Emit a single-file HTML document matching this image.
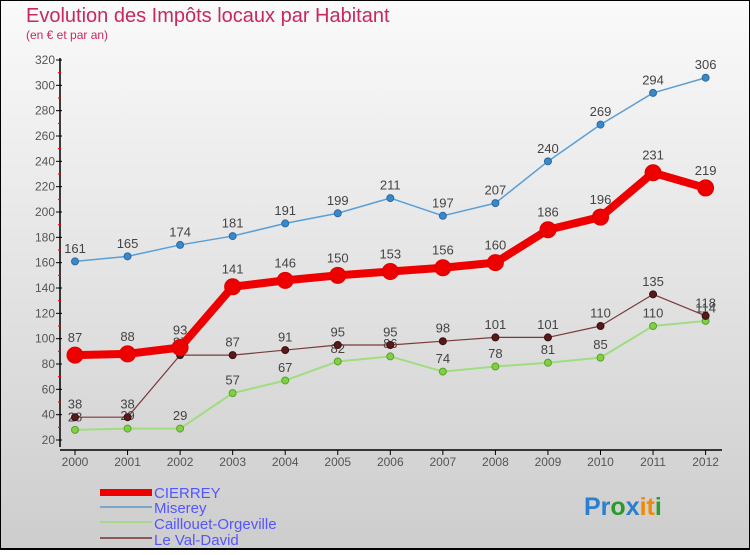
<!DOCTYPE html>
<html><head><meta charset="utf-8"><style>
body{margin:0;}
#c{width:750px;height:550px;position:relative;font-family:"Liberation Sans",sans-serif;}
</style></head><body>
<div id="c">
<svg id="s" width="750" height="550" xmlns="http://www.w3.org/2000/svg">
<defs><linearGradient id="bg" x1="0" y1="0" x2="0" y2="1"><stop offset="0" stop-color="#fafafa"/><stop offset="1" stop-color="#cdcdcd"/></linearGradient></defs>
<rect x="0.5" y="0.5" width="749" height="549" fill="url(#bg)" stroke="#000"/>
<line x1="0" y1="549" x2="750" y2="549" stroke="#000" stroke-width="2"/>
<text x="26" y="22" font-size="20" fill="#c8285a">Evolution des Impôts locaux par Habitant</text>
<text x="26" y="39" font-size="12" fill="#c8285a">(en € et par an)</text>
<g id="axes"></g><g id="series"></g>
<g>
<rect x="100" y="489" width="52" height="7" fill="#e00"/>
<line x1="100" y1="507" x2="152" y2="507" stroke="#7aa6c8" stroke-width="2"/>
<line x1="100" y1="522" x2="152" y2="522" stroke="#a8d890" stroke-width="2"/>
<line x1="100" y1="538" x2="152" y2="538" stroke="#8a5a5a" stroke-width="2"/>
<g font-size="15" fill="#5555ff">
<text x="154" y="498">CIERREY</text>
<text x="154" y="513">Miserey</text>
<text x="154" y="529">Caillouet-Orgeville</text>
<text x="154" y="545">Le Val-David</text>
</g></g>
<text x="584" y="515" font-size="25" font-weight="bold"><tspan fill="#2a7fd0">Pr</tspan><tspan fill="#2a9a2a">o</tspan><tspan fill="#2a7fd0">x</tspan><tspan fill="#f08a00">it</tspan><tspan fill="#2aa02a">i</tspan></text>
</svg></div>
<script>
const years=[2000,2001,2002,2003,2004,2005,2006,2007,2008,2009,2010,2011,2012];
const cierrey=[87,88,93,141,146,150,153,156,160,186,196,231,219];
const miserey=[161,165,174,181,191,199,211,197,207,240,269,294,306];
const caillouet=[28,29,29,57,67,82,86,74,78,81,85,110,114];
const valdavid=[38,38,87,87,91,95,95,98,101,101,110,135,118];
const yTicks=[20,40,60,80,100,120,140,160,180,200,220,240,260,280,300,320];
const NS="http://www.w3.org/2000/svg";
const X=i=>75+i*52.55, Y=v=>440-(v-20)*380/300;
function mk(p,t,a){const e=document.createElementNS(NS,t);for(const k in a)e.setAttribute(k,a[k]);p.appendChild(e);return e;}
const ax=document.getElementById('axes');
let l=mk(ax,'line',{x1:60,y1:58,x2:60,y2:447,stroke:'#000','stroke-width':1.5});


l=mk(ax,'line',{x1:60,y1:450,x2:722,y2:450,stroke:'#000','stroke-width':1.5});


yTicks.forEach((v,i)=>{
 mk(ax,'line',{x1:56,y1:Y(v),x2:62,y2:Y(v),stroke:'#000'});
 if(i<yTicks.length-1)mk(ax,'line',{x1:58,y1:Y(v+10),x2:61,y2:Y(v+10),stroke:'#e00'});
 const t=mk(ax,'text',{x:55,y:Y(v)+4,'text-anchor':'end','font-size':12,fill:'#555'});t.textContent=v;
 
 
});
years.forEach((y,i)=>{
 mk(ax,'line',{x1:X(i),y1:450,x2:X(i),y2:455,stroke:'#000'});
 const t=mk(ax,'text',{x:X(i),y:466,'text-anchor':'middle','font-size':12,fill:'#555'});t.textContent=y;
 
 
});
const sg=document.getElementById('series');
function draw(vals,name,col,dot,w,r,dcol){
 const g=mk(sg,'g',{});
 
 
 mk(g,'polyline',{points:vals.map((v,i)=>X(i)+','+Y(v)).join(' '),fill:'none',stroke:col,'stroke-width':w,'stroke-linejoin':'round'});
 vals.forEach((v,i)=>{
  const c=mk(g,'circle',{cx:X(i),cy:Y(v),r:r,fill:dcol,stroke:dot,'stroke-width':1});
  
  
  const t=mk(g,'text',{x:X(i),y:Y(v)-r-5,'text-anchor':'middle','font-size':13,fill:'#444'});t.textContent=v;
  
  
 });
}
draw(miserey,'miserey','#5a9ed6','#2a6aa0',1.5,3.5,'#3a88cc');
draw(caillouet,'caillouet','#a0dc80','#5aa030',2,3.5,'#80d040');
draw(valdavid,'le-val-david','#7a3a3a','#3a1010',1.2,3.5,'#5a1818');
draw(cierrey,'cierrey','#ee0000','#dd0000',8,8,'#ee0000');
</script>
</body></html>
